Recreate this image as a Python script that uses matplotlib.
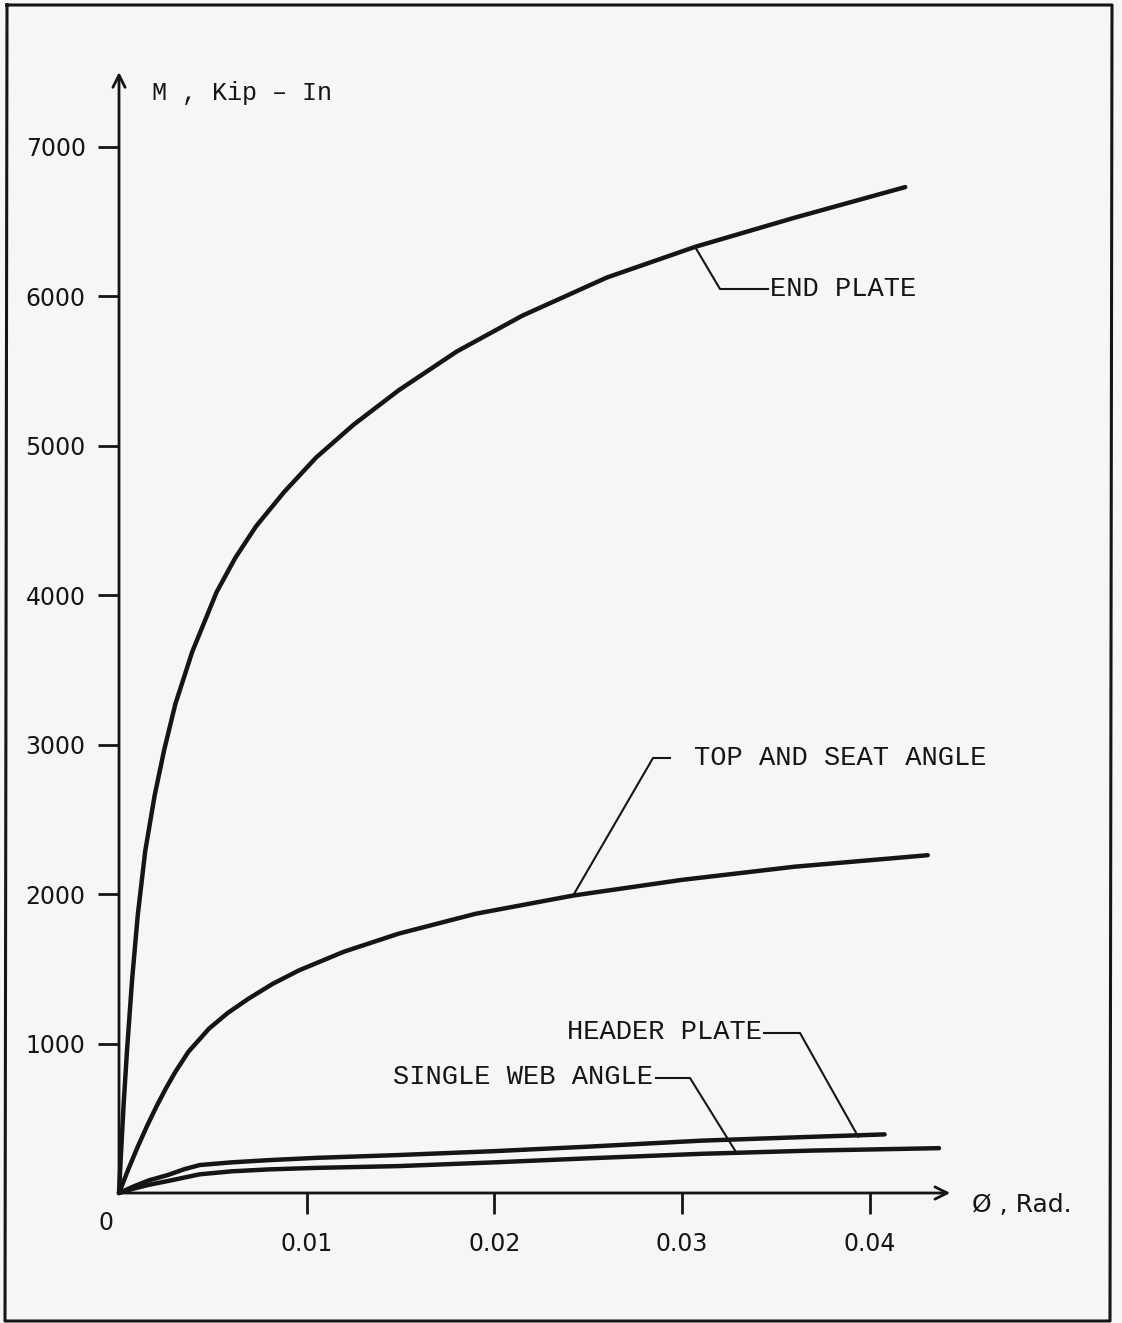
import matplotlib
matplotlib.use('Agg')
import matplotlib.pyplot as plt
from matplotlib.transforms import Affine2D
from matplotlib.lines import Line2D

# ---------------- data (rotation phi in rad, moment M in kip-in) ----------------
end_plate_phi = [0.0, 0.0001, 0.00025, 0.00043, 0.0007, 0.001, 0.0014, 0.0019, 0.0024,
                 0.0030, 0.0039, 0.0052, 0.0062, 0.0073, 0.0088, 0.0105, 0.0125, 0.0149,
                 0.018, 0.0215, 0.026, 0.0307, 0.036, 0.0419]
end_plate_M = [0, 250, 600, 960, 1430, 1860, 2290, 2660, 2960,
               3270, 3620, 4020, 4250, 4460, 4690, 4920, 5140, 5370,
               5630, 5870, 6125, 6330, 6525, 6730]

top_seat_phi = [0.0, 0.0005, 0.001, 0.0015, 0.002, 0.0025, 0.0030, 0.0037, 0.0048, 0.0058,
                0.0069, 0.0082, 0.0096, 0.012, 0.0149, 0.019, 0.0242, 0.030, 0.036, 0.0431]
top_seat_M = [0, 160, 310, 450, 580, 700, 810, 945, 1100, 1205,
              1300, 1400, 1490, 1615, 1735, 1868, 1990, 2095, 2183, 2260]

header_phi = [0.0, 0.0008, 0.0016, 0.0026, 0.0035, 0.0043, 0.006, 0.008, 0.0105,
              0.0149, 0.020, 0.025, 0.031, 0.036, 0.0408]
header_M = [0, 45, 85, 120, 160, 187, 205, 220, 235,
            254, 280, 310, 350, 372, 392]

web_phi = [0.0, 0.0008, 0.0016, 0.0026, 0.0043, 0.006, 0.008, 0.0105,
           0.0149, 0.020, 0.025, 0.031, 0.037, 0.0437]
web_M = [0, 30, 55, 80, 125, 145, 158, 168,
         180, 205, 232, 262, 284, 300]

x_ticks = [0.01, 0.02, 0.03, 0.04]
x_tick_labels = ['0.01', '0.02', '0.03', '0.04']
y_ticks = [1000, 2000, 3000, 4000, 5000, 6000, 7000]
y_tick_labels = ['1000', '2000', '3000', '4000', '5000', '6000', '7000']

# ---------------- figure ----------------
W, H = 1122, 1323
INK = '#151515'
fig = plt.figure(figsize=(W / 100, H / 100), dpi=100, facecolor='#f6f6f4')
ax = fig.add_axes([119 / W, 1 - 1193 / H, (954 - 119) / W, (1193 - 72) / H])
ax.set_facecolor('none')
ax.set_xlim(0, 0.0445)
ax.set_ylim(0, 7500)
for s in ax.spines.values():
    s.set_visible(False)

# pixel transform (origin top-left)
PX = Affine2D().scale(1 / W, -1 / H).translate(0, 1) + fig.transFigure

# axes with arrows
ax.annotate('', xy=(0.0443, 0), xytext=(0, 0), xycoords='data',
            arrowprops=dict(arrowstyle='->', lw=2.0, color=INK, mutation_scale=22,
                            shrinkA=0, shrinkB=0), annotation_clip=False)
ax.annotate('', xy=(0, 7500), xytext=(0, 0), xycoords='data',
            arrowprops=dict(arrowstyle='->', lw=2.0, color=INK, mutation_scale=22,
                            shrinkA=0, shrinkB=0), annotation_clip=False)

ax.set_xticks(x_ticks)
ax.set_xticklabels(x_tick_labels)
ax.set_yticks(y_ticks)
ax.set_yticklabels(y_tick_labels)
ax.tick_params(axis='both', direction='out', length=15, width=2, color=INK,
               labelcolor=INK, labelsize=17)
ax.tick_params(axis='x', pad=13)
ax.tick_params(axis='y', pad=9)
for lab in ax.get_xticklabels() + ax.get_yticklabels():
    lab.set_family('DejaVu Sans')

# curves
lw_curve = 3.2
for xs, ys in [(end_plate_phi, end_plate_M), (top_seat_phi, top_seat_M),
               (header_phi, header_M), (web_phi, web_M)]:
    ax.plot(xs, ys, color=INK, lw=lw_curve, solid_capstyle='round',
            solid_joinstyle='round', clip_on=False)


def to_px(phi, m):
    x, y = ax.transData.transform((phi, m))
    return x, H - y


def leader(points):
    xs = [p[0] for p in points]
    ys = [p[1] for p in points]
    fig.add_artist(Line2D(xs, ys, transform=PX, color=INK, lw=1.5))


mono = 'Liberation Mono'
fs_lab = 19.5

# END PLATE
tip = to_px(0.0307, 6330)
leader([tip, (720, 289), (768, 289)])
fig.text(770, 289, 'END PLATE', transform=PX, family=mono, fontsize=fs_lab,
         color=INK, ha='left', va='center')

# TOP AND SEAT ANGLE
tip = to_px(0.0242, 1990)
leader([tip, (653, 758), (670, 758)])
fig.text(694, 758, 'TOP AND SEAT ANGLE', transform=PX, family=mono, fontsize=fs_lab,
         color=INK, ha='left', va='center')

# HEADER PLATE
tip = to_px(0.0394, 376)
leader([(764, 1033), (800, 1033), tip])
fig.text(567, 1032, 'HEADER PLATE', transform=PX, family=mono, fontsize=fs_lab,
         color=INK, ha='left', va='center')

# SINGLE WEB ANGLE
tip = to_px(0.0329, 270)
leader([(656, 1078), (690, 1078), tip])
fig.text(393, 1077, 'SINGLE WEB ANGLE', transform=PX, family=mono, fontsize=fs_lab,
         color=INK, ha='left', va='center')

# axis titles
fig.text(152, 93, 'M , Kip \u2013 In', transform=PX, family=mono, fontsize=18,
         color=INK, ha='left', va='center')
fig.text(972, 1205, '\u00d8 , Rad.', transform=PX, family=['DejaVu Sans'], fontsize=18,
         color=INK, ha='left', va='center')
fig.text(106, 1223, '0', transform=PX, family='DejaVu Sans', fontsize=17,
         color=INK, ha='center', va='center')

# page frame
fig.add_artist(Line2D([7, 1112, 1110, 5, 7], [5, 5, 1321, 1321, 5], transform=PX,
                      color=INK, lw=2.2))

fig.savefig('out.png', dpi=100, facecolor=fig.get_facecolor())
